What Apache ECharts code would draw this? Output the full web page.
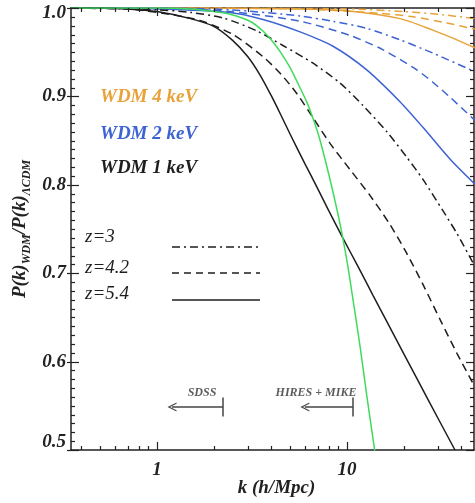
<!DOCTYPE html>
<html>
<head>
<meta charset="utf-8">
<script src="https://cdn.jsdelivr.net/npm/echarts@6/dist/echarts.min.js"></script>
<style>
  html, body { margin: 0; padding: 0; background: #ffffff; }
  #chart { width: 475px; height: 503px; }
</style>
</head>
<body>
<div id="chart"></div>
<script>
// WDM / LambdaCDM power-spectrum suppression for 1, 2 and 4 keV thermal relics
// at three redshifts, with the k-reach of the SDSS and HIRES+MIKE Lyman-alpha data.

// ---- axis extents and ticks -------------------------------------------------
const kMin = 0.3527;
const kMax = 46.6;
const kMajorTicks = [1, 10];
const kMinorTicks = [0.4, 0.5, 0.6, 0.7, 0.8, 0.9, 2, 3, 4, 5, 6, 7, 8, 9, 20, 30, 40];
const ratioMin = 0.5;
const ratioMax = 1.0;
const ratioStep = 0.1;
const ratioMinorSplit = 10;

// ---- WDM 1 keV --------------------------------------------------------------
const k_m1_z3  = [0.35, 1.0, 1.5, 2.23, 3.36, 4.6, 6.6, 9.2, 12.1, 16.2, 20.6, 25.1, 31.9, 37.9, 47];
const r_m1_z3  = [1.0, 0.998, 0.995, 0.9887, 0.974, 0.9576, 0.9378, 0.915, 0.890, 0.860, 0.8314, 0.8061, 0.771, 0.7449, 0.7081];

const k_m1_z42 = [0.35, 0.7, 1.0, 1.68, 2.51, 3.61, 4.5, 5.45, 6.6, 8.14, 10.35, 13.2, 16.8, 20.6, 25.1, 31.0, 37.9, 47];
const r_m1_z42 = [1.0, 0.999, 0.995, 0.986, 0.970, 0.945, 0.925, 0.903, 0.8764, 0.8469, 0.8175, 0.7881, 0.7553, 0.7226, 0.6873, 0.6469, 0.6094, 0.5716];

const k_m1_z54 = [0.35, 0.5, 0.7, 1.0, 1.5, 2.0, 2.5, 3.0, 3.5, 4.0, 4.5, 5.0, 6.0, 7.0, 8.0, 9.5, 11.4, 13.7, 20, 27, 37];
const r_m1_z54 = [1.0, 1.0, 0.999, 0.996, 0.988, 0.979, 0.9634, 0.9451, 0.9236, 0.9005, 0.8784, 0.858, 0.824, 0.796, 0.771, 0.740, 0.708, 0.675, 0.608, 0.555, 0.5];

// ---- WDM 2 keV --------------------------------------------------------------
const k_m2_z3  = [0.35, 1, 2.42, 5.66, 8.4, 12.7, 19, 28.3, 47];
const r_m2_z3  = [1.0, 1.0, 0.998, 0.991, 0.985, 0.977, 0.964, 0.949, 0.928];

const k_m2_z42 = [0.35, 1, 2.42, 5.66, 10.35, 15.4, 23.3, 28.3, 34.9, 47];
const r_m2_z42 = [1.0, 1.0, 0.996, 0.985, 0.969, 0.953, 0.930, 0.916, 0.899, 0.873];

const k_m2_z54 = [0.35, 1, 2.42, 3.61, 5.66, 8.4, 12.7, 19.0, 25.1, 34.9, 47];
const r_m2_z54 = [1.0, 0.999, 0.995, 0.987, 0.973, 0.957, 0.930, 0.894, 0.865, 0.829, 0.801];

// ---- WDM 4 keV --------------------------------------------------------------
const k_m4_z3  = [0.35, 1, 10, 20, 30, 47];
const r_m4_z3  = [1.0, 1.0, 0.999, 0.996, 0.993, 0.988];

const k_m4_z42 = [0.35, 1, 5.66, 14.9, 22.3, 33.6, 47];
const r_m4_z42 = [1.0, 1.0, 0.999, 0.994, 0.990, 0.983, 0.976];

const k_m4_z54 = [0.35, 1, 5.66, 10, 19, 28.3, 37.9, 47];
const r_m4_z54 = [1.0, 1.0, 0.999, 0.997, 0.988, 0.975, 0.964, 0.955];

// ---- sharp cut-off comparison curve ----------------------------------------
const k_green = [0.35, 1.0, 1.5, 1.83, 2.42, 3.08, 3.61, 4.08, 4.5, 5.0, 5.45, 6.16, 6.6, 7.2, 8.1, 9.0, 9.5, 10.1, 10.6, 11.7, 12.7, 14.0];
const r_green = [1.0, 1.0, 0.999, 0.997, 0.993, 0.985, 0.974, 0.9615, 0.949, 0.933, 0.917, 0.893, 0.876, 0.851, 0.808, 0.765, 0.740, 0.708, 0.679, 0.618, 0.562, 0.499];

// ---- data-set k reach (arrows) ---------------------------------------------
const surveyNames  = ['SDSS', 'HIRES + MIKE'];
const surveyKmax   = [2.225, 10.75];
const surveyKarrow = [1.2, 6.0];
const surveyKlabel = [1.725, 6.87];
const arrowLevel   = 0.5486;
const barHalf      = 0.0108;
const labelLevel   = 0.5645;

// ---- legend text -----------------------------------------------------------
const massLabels = ['WDM 4 keV', 'WDM 2 keV', 'WDM 1 keV'];
const zLabels    = ['z=3', 'z=4.2', 'z=5.4'];

// ---- styling ---------------------------------------------------------------
const SERIF  = '"Liberation Serif", "Times New Roman", serif';
const ORANGE = '#e8a23a';
const BLUE   = '#3d63d2';
const BLACK  = '#1e1e1e';
const GREEN  = '#3fdc5c';
const DASH    = [8, 5];
const DASHDOT = [8, 4, 2, 4];
const AXIS    = '#222222';

function pairs(ks, vs) { return ks.map((k, i) => [k, vs[i]]); }

function curve(name, ks, vs, color, type) {
  return {
    type: 'line', name: name, data: pairs(ks, vs),
    symbol: 'none', showSymbol: false, smooth: 0.25,
    clip: true, silent: true,
    lineStyle: { color: color, width: 1.5, type: type }
  };
}

const labelFont = { fontFamily: SERIF, fontStyle: 'italic', fontWeight: 'bold', fontSize: 19, color: '#222' };

function xAxisDef(position, withLabels) {
  return {
    type: 'log', logBase: 10, min: kMin, max: kMax, position: position, gridIndex: 0,
    axisLine: { show: true, onZero: false, lineStyle: { color: AXIS, width: 1.5 } },
    axisTick: { show: false },
    minorTick: { show: false }, splitLine: { show: false },
    axisLabel: Object.assign({
      show: withLabels, customValues: kMajorTicks, margin: 11,
      formatter: v => String(Math.round(v))
    }, labelFont),
    name: withLabels ? 'k (h/Mpc)' : '', nameLocation: 'middle', nameGap: 29,
    nameMoveOverlap: false,
    nameTextStyle: Object.assign({ padding: [0, 0, 0, 8] }, labelFont)
  };
}

function yAxisDef(position, withLabels) {
  return {
    type: 'value', min: ratioMin, max: ratioMax, interval: ratioStep, position: position, gridIndex: 0,
    axisLine: { show: true, onZero: false, lineStyle: { color: AXIS, width: 1.5 } },
    axisTick: { show: false }, minorTick: { show: false },
    splitLine: { show: false }, minorSplitLine: { show: false },
    axisLabel: Object.assign({
      show: withLabels, margin: 5,
      formatter: v => {
        const s = v.toFixed(1);
        if (Math.abs(v - ratioMax) < 1e-6) return '{hi|' + s + '}';
        if (Math.abs(v - ratioMin) < 1e-6) return '{lo|' + s + '}';
        return s;
      },
      rich: {
        hi: Object.assign({ padding: [10, 0, 0, 0] }, labelFont),
        lo: Object.assign({ padding: [0, 0, 16, 0] }, labelFont)
      }
    }, labelFont),
    name: withLabels ? '{m|P(k)}{s|WDM}{m|/P(k)}{s|ΛCDM}' : '',
    nameLocation: 'middle', nameGap: 38, nameRotate: 90, nameMoveOverlap: false,
    nameTextStyle: {
      rich: {
        m: { fontFamily: SERIF, fontStyle: 'italic', fontWeight: 'bold', fontSize: 19, color: '#222', lineHeight: 26 },
        s: { fontFamily: SERIF, fontStyle: 'italic', fontWeight: 'bold', fontSize: 12, color: '#222', verticalAlign: 'bottom' }
      }
    }
  };
}

// ---- frame ticks (inward on all four sides), placed through the axes' scales ----
// kind: 0 = k major, 1 = k minor, 2 = ratio major, 3 = ratio minor
const tickData = [];
kMajorTicks.forEach(k => tickData.push([k, ratioMin, 0]));
kMinorTicks.forEach(k => tickData.push([k, ratioMin, 1]));
for (let i = 0; i <= Math.round((ratioMax - ratioMin) / ratioStep * ratioMinorSplit); i++) {
  const r = +(ratioMin + i * ratioStep / ratioMinorSplit).toFixed(4);
  tickData.push([kMin, r, i % ratioMinorSplit === 0 ? 2 : 3]);
}

const tickSeries = {
  type: 'custom', name: 'frame ticks', silent: true, clip: false, z: 5,
  data: tickData,
  renderItem: (params, api) => {
    const kind = api.value(2);
    const style = { stroke: AXIS, lineWidth: 1.2 };
    const corner0 = api.coord([kMin, ratioMin]);
    const corner1 = api.coord([kMax, ratioMax]);
    if (kind < 2) {
      const len = kind === 0 ? 8 : 4;
      const x = Math.round(api.coord([api.value(0), ratioMin])[0]) + 0.5;
      return { type: 'group', children: [
        { type: 'line', shape: { x1: x, y1: corner0[1], x2: x, y2: corner0[1] - len }, style: style },
        { type: 'line', shape: { x1: x, y1: corner1[1], x2: x, y2: corner1[1] + len }, style: style }
      ] };
    }
    const len = kind === 2 ? 8 : 4;
    const out = kind === 2 ? 4 : 0;
    const y = Math.round(api.coord([kMin, api.value(1)])[1]) + 0.5;
    return { type: 'group', children: [
      { type: 'line', shape: { x1: corner0[0] - out, y1: y, x2: corner0[0] + len, y2: y }, style: style },
      { type: 'line', shape: { x1: corner1[0], y1: y, x2: corner1[0] - len, y2: y }, style: style }
    ] };
  }
};

const chevron = 'path://M0,10 L5,0 L10,10 L8.6,10 L5,2.8 L1.4,10 Z';

const arrowLines = [];
surveyNames.forEach((n, i) => {
  arrowLines.push([
    { coord: [surveyKmax[i], arrowLevel], symbol: 'none' },
    { coord: [surveyKarrow[i], arrowLevel], symbol: chevron, symbolSize: [9, 9] }
  ]);
  arrowLines.push([
    { coord: [surveyKmax[i], arrowLevel + barHalf], symbol: 'none' },
    { coord: [surveyKmax[i], arrowLevel - barHalf], symbol: 'none' }
  ]);
});

const surveySeries = {
  type: 'scatter', name: 'surveys', silent: true, symbolSize: 0,
  data: surveyNames.map((n, i) => ({ value: [surveyKlabel[i], labelLevel], name: n })),
  label: {
    show: true, position: 'inside', formatter: p => p.name,
    fontFamily: SERIF, fontStyle: 'italic', fontWeight: 'bold', fontSize: 12, color: '#333'
  },
  markLine: {
    silent: true, animation: false, symbol: 'none',
    label: { show: false },
    lineStyle: { color: '#444', width: 1.5, type: 'solid' },
    emphasis: { disabled: true },
    data: arrowLines
  }
};

const txt = (t, x, y, color, font) => ({
  type: 'text', x: x, y: y, silent: true,
  style: { text: t, fill: color, font: font, verticalAlign: 'middle', align: 'left' }
});
const sample = (x1, x2, y, dash) => ({
  type: 'line', silent: true,
  shape: { x1: x1, y1: y, x2: x2, y2: y },
  style: { stroke: BLACK, lineWidth: 1.5, lineDash: dash }
});

const massFont = 'italic bold 19px ' + SERIF;
const zFont = 'italic 19px ' + SERIF;

const option = {
  animation: false,
  backgroundColor: '#ffffff',
  grid: { left: 71, right: 1, top: 8, bottom: 53, containLabel: false, outerBoundsMode: 'none' },
  xAxis: [xAxisDef('bottom', true), xAxisDef('top', false)],
  yAxis: [yAxisDef('left', true), yAxisDef('right', false)],
  series: [
    curve('WDM 4 keV z=3',   k_m4_z3,  r_m4_z3,  ORANGE, DASHDOT),
    curve('WDM 4 keV z=4.2', k_m4_z42, r_m4_z42, ORANGE, DASH),
    curve('WDM 4 keV z=5.4', k_m4_z54, r_m4_z54, ORANGE, 'solid'),
    curve('WDM 2 keV z=3',   k_m2_z3,  r_m2_z3,  BLUE,   DASHDOT),
    curve('WDM 2 keV z=4.2', k_m2_z42, r_m2_z42, BLUE,   DASH),
    curve('WDM 2 keV z=5.4', k_m2_z54, r_m2_z54, BLUE,   'solid'),
    curve('WDM 1 keV z=3',   k_m1_z3,  r_m1_z3,  BLACK,  DASHDOT),
    curve('WDM 1 keV z=4.2', k_m1_z42, r_m1_z42, BLACK,  DASH),
    curve('WDM 1 keV z=5.4', k_m1_z54, r_m1_z54, BLACK,  'solid'),
    curve('cut-off', k_green, r_green, GREEN, 'solid'),
    surveySeries,
    tickSeries
  ],
  graphic: [
    txt(massLabels[0], 100, 97,  ORANGE, massFont),
    txt(massLabels[1], 100, 134, BLUE,   massFont),
    txt(massLabels[2], 100, 168, BLACK,  massFont),
    txt(zLabels[0], 85, 237, BLACK, zFont),
    txt(zLabels[1], 85, 268, BLACK, zFont),
    txt(zLabels[2], 85, 294, BLACK, zFont),
    sample(172, 260, 247, DASHDOT),
    sample(172, 260, 273, [7, 5]),
    sample(172, 260, 300, null)
  ]
};

const chart = echarts.init(document.getElementById('chart'), null, { renderer: 'canvas' });
chart.setOption(option);
</script>
</body>
</html>
